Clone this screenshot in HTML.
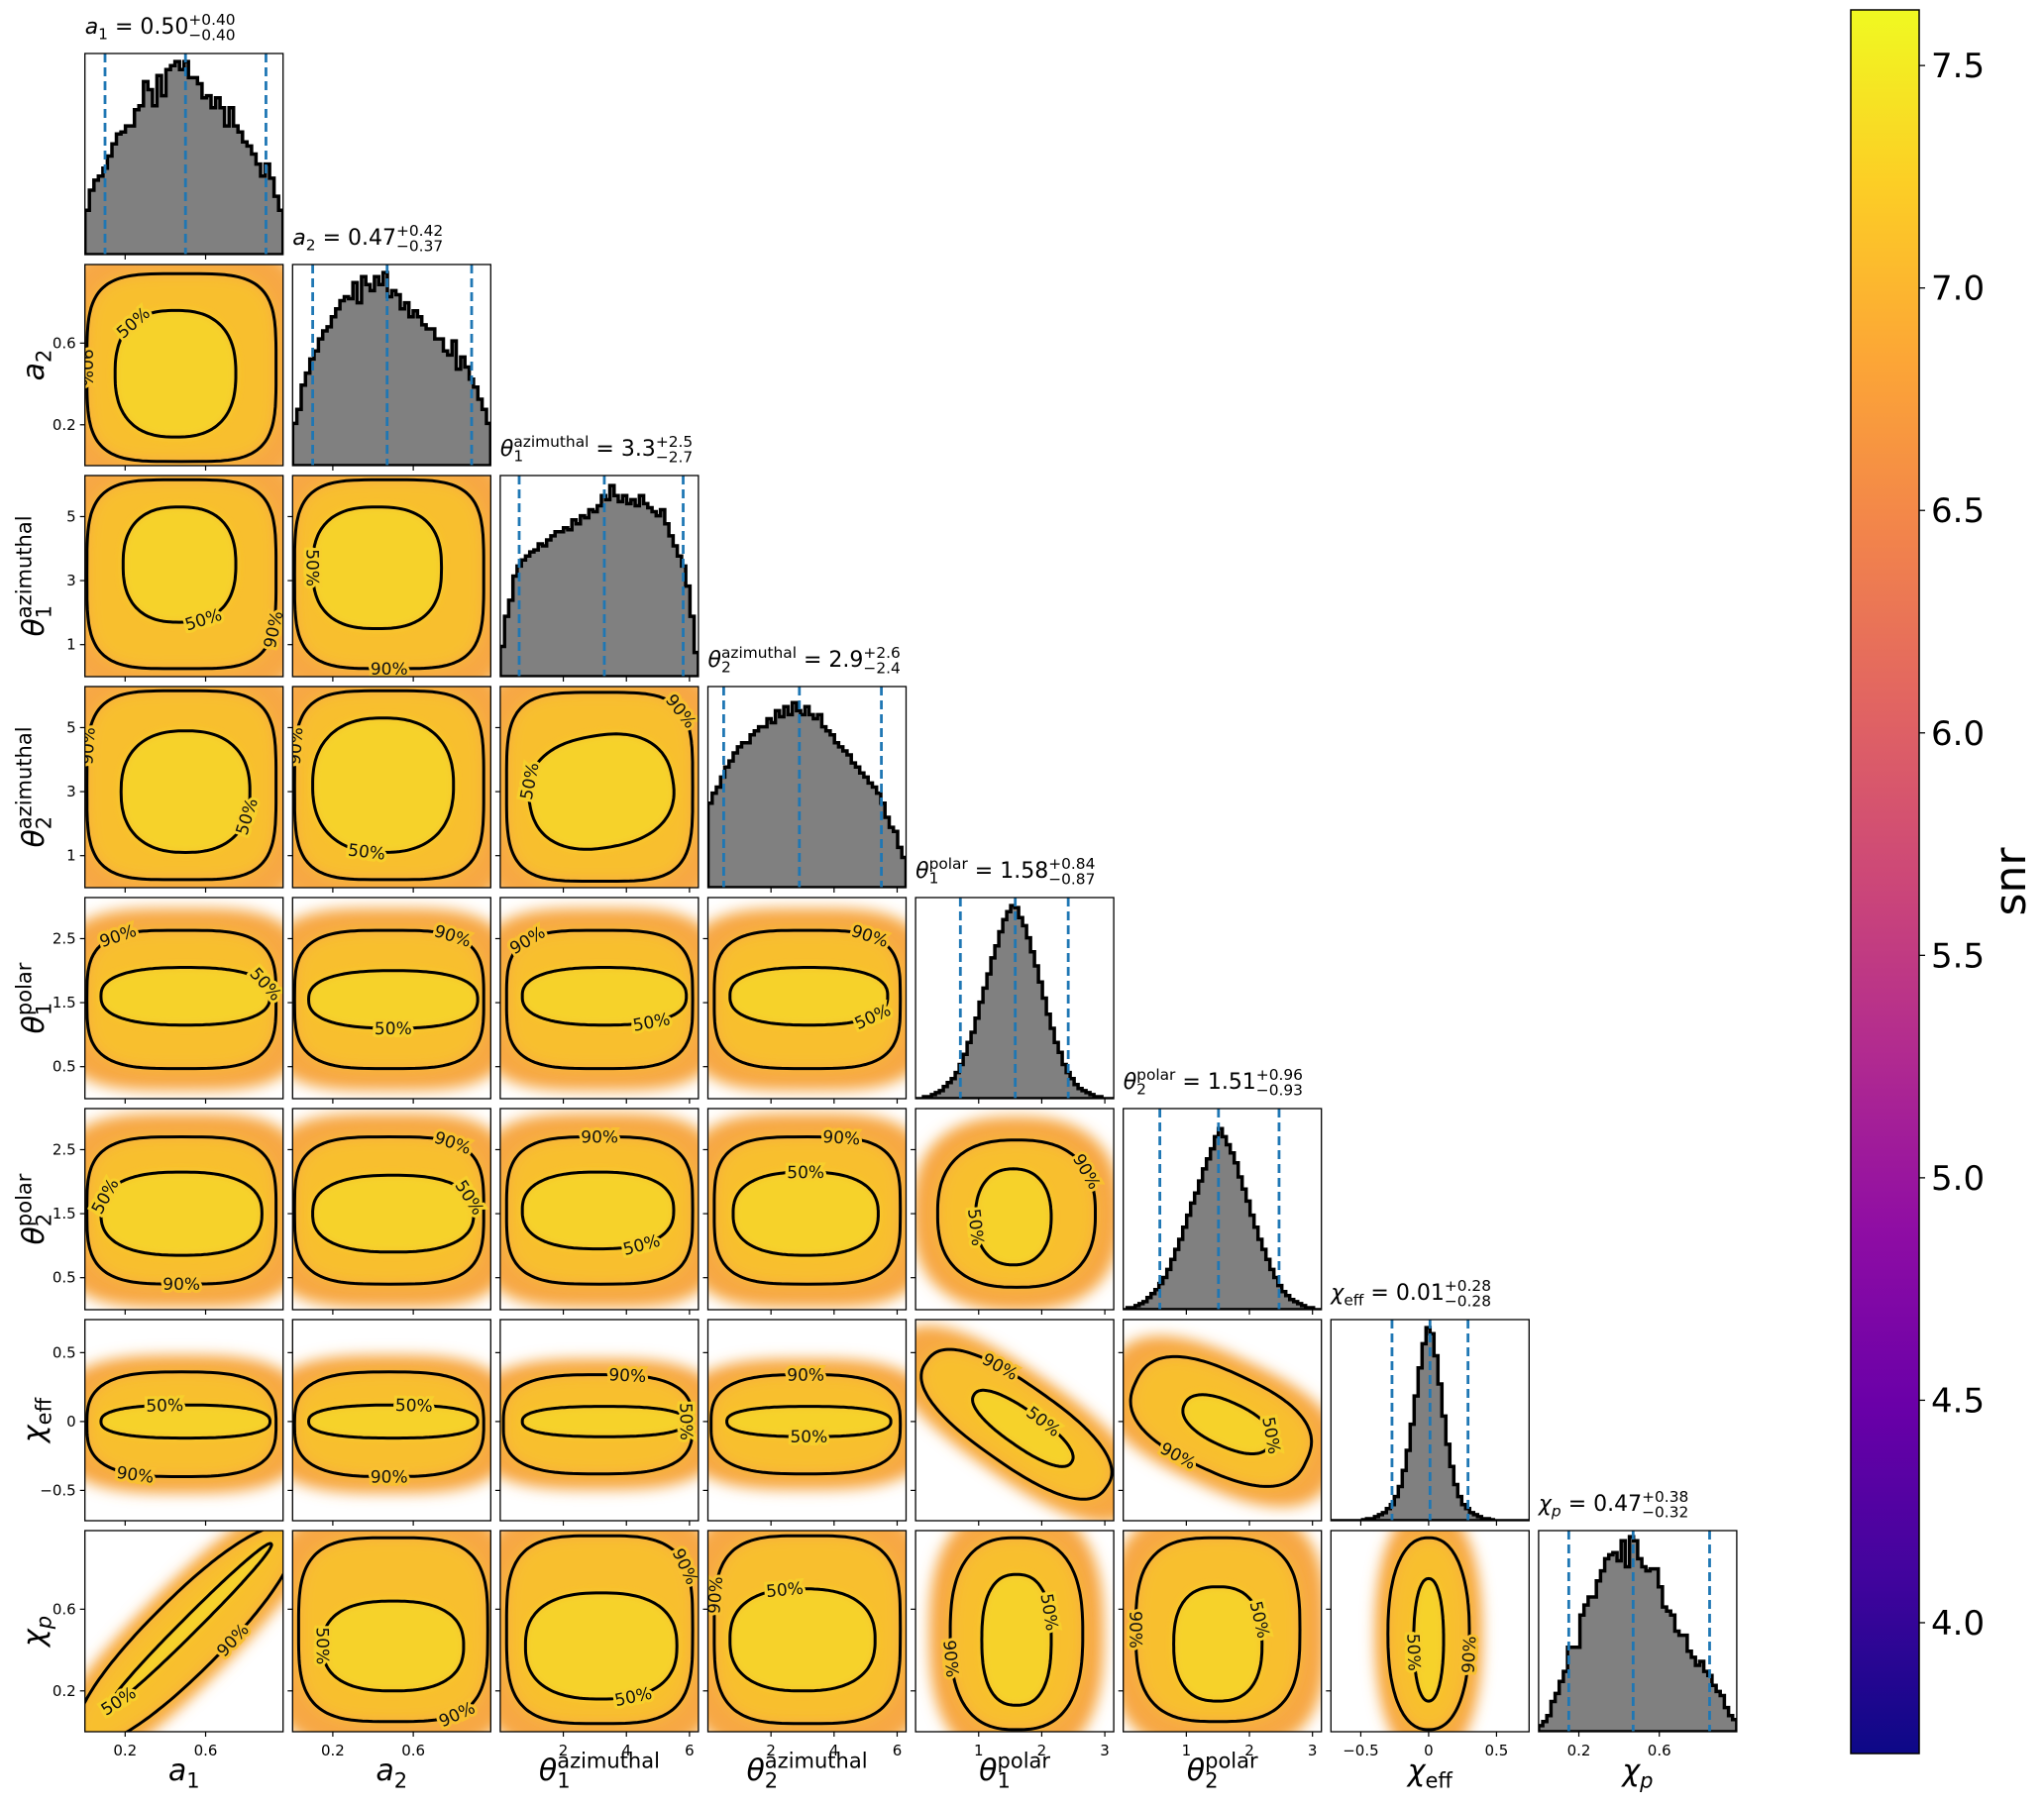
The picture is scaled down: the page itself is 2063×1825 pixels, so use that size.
<!DOCTYPE html>
<html><head><meta charset="utf-8"><title>Corner plot</title>
<style>
html,body{margin:0;padding:0;background:#fff;}
svg{display:block;font-family:"DejaVu Sans","Liberation Sans",sans-serif;}
</style></head>
<body>
<svg id="chart" width="2063" height="1825" viewBox="0 0 2063 1825" xmlns="http://www.w3.org/2000/svg">
<defs>
<filter id="blur8" x="-20%" y="-20%" width="140%" height="140%"><feGaussianBlur stdDeviation="7"/></filter>
<filter id="blur4" x="-20%" y="-20%" width="140%" height="140%"><feGaussianBlur stdDeviation="4"/></filter>
<linearGradient id="plasma" x1="0" y1="1" x2="0" y2="0">
<stop offset="0" stop-color="#0d0887"/><stop offset="0.1" stop-color="#41049d"/><stop offset="0.2" stop-color="#6a00a8"/><stop offset="0.3" stop-color="#8f0da4"/><stop offset="0.4" stop-color="#b12a90"/><stop offset="0.5" stop-color="#cc4778"/><stop offset="0.6" stop-color="#e16462"/><stop offset="0.7" stop-color="#f2844b"/><stop offset="0.8" stop-color="#fca636"/><stop offset="0.9" stop-color="#fcce25"/><stop offset="1" stop-color="#f0f921"/>
</linearGradient>
</defs>
</svg>
<script>
// ---- data ----
const paramNames = ['a1','a2','theta1-azimuthal','theta2-azimuthal','theta1-polar','theta2-polar','chi-eff','chi-p'];
const rangeLo = [0, 0, 0, 0, 0, 0, -0.72, 0];
const rangeHi = [0.985, 0.985, 6.283, 6.283, 3.1416, 3.1416, 0.74, 0.985];
const xTicks = [[0.2,0.6],[0.2,0.6],[2,4,6],[2,4,6],[1,2,3],[1,2,3],[-0.5,0,0.5],[0.2,0.6]];
const yTicks = [[],[0.2,0.6],[1,3,5],[1,3,5],[0.5,1.5,2.5],[0.5,1.5,2.5],[-0.5,0,0.5],[0.2,0.6]];
const medians = [0.50, 0.47, 3.3, 2.9, 1.58, 1.51, 0.01, 0.47];
const errPlus = ['+0.40','+0.42','+2.5','+2.6','+0.84','+0.96','+0.28','+0.38'];
const errMinus = ['−0.40','−0.37','−2.7','−2.4','−0.87','−0.93','−0.28','−0.32'];
const medianText = ['0.50','0.47','3.3','2.9','1.58','1.51','0.01','0.47'];
const qLow = [0.10, 0.10, 0.6, 0.5, 0.71, 0.58, -0.27, 0.15];
const qHigh = [0.90, 0.89, 5.8, 5.5, 2.42, 2.47, 0.29, 0.85];

const hist_a1 = [0.22,0.32,0.37,0.39,0.43,0.49,0.55,0.6,0.61,0.64,0.64,0.72,0.74,0.86,0.82,0.74,0.89,0.79,0.92,0.94,0.96,0.92,0.96,0.88,0.88,0.85,0.78,0.79,0.73,0.78,0.73,0.64,0.73,0.64,0.61,0.56,0.54,0.5,0.45,0.39,0.45,0.38,0.29,0.22];
const hist_a2 = [0.21,0.28,0.4,0.46,0.53,0.57,0.63,0.67,0.69,0.74,0.78,0.82,0.84,0.83,0.91,0.81,0.94,0.9,0.87,0.94,0.9,0.96,0.84,0.87,0.85,0.78,0.81,0.74,0.77,0.74,0.7,0.68,0.68,0.63,0.63,0.57,0.55,0.62,0.48,0.54,0.49,0.43,0.39,0.33,0.28,0.21];
const hist_th1az = [0.15,0.3,0.38,0.5,0.55,0.58,0.6,0.62,0.63,0.66,0.65,0.68,0.7,0.72,0.72,0.74,0.73,0.78,0.76,0.8,0.79,0.83,0.82,0.85,0.9,0.88,0.95,0.9,0.87,0.9,0.86,0.88,0.85,0.9,0.86,0.84,0.82,0.8,0.83,0.76,0.7,0.65,0.6,0.55,0.45,0.3,0.12];
const hist_th2az = [0.42,0.47,0.5,0.55,0.6,0.63,0.67,0.7,0.72,0.72,0.76,0.78,0.8,0.8,0.84,0.82,0.88,0.85,0.9,0.86,0.92,0.88,0.86,0.9,0.86,0.84,0.86,0.8,0.78,0.76,0.72,0.7,0.68,0.66,0.62,0.6,0.57,0.55,0.52,0.5,0.47,0.42,0.35,0.3,0.28,0.2,0.15];
const hist_th1p = [0.0,0.0,0.01,0.01,0.02,0.03,0.04,0.06,0.08,0.1,0.13,0.17,0.22,0.28,0.33,0.4,0.48,0.55,0.62,0.7,0.76,0.83,0.89,0.93,0.96,0.95,0.9,0.86,0.8,0.73,0.66,0.58,0.5,0.42,0.35,0.28,0.23,0.17,0.13,0.1,0.07,0.05,0.04,0.03,0.02,0.01,0.01,0.0,0.0,0.0];
const hist_th2p = [0.0,0.01,0.01,0.02,0.03,0.04,0.06,0.08,0.1,0.13,0.16,0.2,0.25,0.3,0.35,0.41,0.47,0.53,0.58,0.64,0.7,0.75,0.8,0.86,0.9,0.86,0.82,0.78,0.73,0.66,0.6,0.54,0.47,0.41,0.35,0.3,0.25,0.2,0.16,0.12,0.09,0.07,0.05,0.04,0.03,0.02,0.01,0.01,0.0,0.0];
const hist_chieff = [0,0,0,0,0,0,0,0,0.005,0.01,0.01,0.02,0.03,0.04,0.06,0.08,0.12,0.17,0.25,0.35,0.48,0.62,0.76,0.88,0.96,0.93,0.82,0.68,0.52,0.38,0.27,0.18,0.12,0.08,0.06,0.04,0.03,0.02,0.01,0.01,0.005,0,0,0,0,0,0,0,0,0];
const hist_chip = [0.03,0.05,0.08,0.15,0.19,0.25,0.3,0.42,0.42,0.42,0.58,0.63,0.67,0.67,0.75,0.8,0.86,0.88,0.89,0.85,0.95,0.82,0.97,0.95,0.86,0.82,0.8,0.81,0.81,0.72,0.62,0.6,0.58,0.5,0.48,0.48,0.4,0.37,0.33,0.35,0.3,0.28,0.23,0.2,0.18,0.12,0.08,0.06];
const histograms = [hist_a1,hist_a2,hist_th1az,hist_th2az,hist_th1p,hist_th2p,hist_chieff,hist_chip];

// contour rows: [row, col, level, cx, cy, rx, ry, rotationDeg, superellipseExp, labelAngle]
const contours = [
 [1,0,'90%',0.48,0.48,0.47,0.46,0,4,180],[1,0,'50%',0.45,0.45,0.30,0.31,0,2.5,130],
 [2,0,'90%',0.48,3.2,0.47,2.95,0,4,-20],[2,0,'50%',0.47,3.5,0.28,1.8,0,2.5,-70],
 [2,1,'90%',0.48,3.2,0.47,2.95,0,4,-90],[2,1,'50%',0.42,3.4,0.32,1.9,0,2.6,180],
 [3,0,'90%',0.48,3.2,0.47,2.95,0,4,170],[3,0,'50%',0.5,3.0,0.32,1.9,0,2.4,-20],
 [3,1,'90%',0.48,3.2,0.47,2.95,0,4,170],[3,1,'50%',0.45,3.2,0.35,2.1,0,2.4,-100],
 [3,2,'90%',3.15,3.15,2.95,2.95,0,4,40],[3,2,'50%',3.2,3.0,2.3,1.75,-10,2.4,160],
 [4,0,'90%',0.48,1.55,0.47,1.08,0,3.5,120],[4,0,'50%',0.5,1.6,0.42,0.45,0,2.5,20],
 [4,1,'90%',0.48,1.55,0.47,1.08,0,3.5,60],[4,1,'50%',0.5,1.55,0.42,0.45,0,2.5,-90],
 [4,2,'90%',3.15,1.55,2.95,1.08,0,3.5,130],[4,2,'50%',3.3,1.6,2.6,0.45,0,2.5,-60],
 [4,3,'90%',3.15,1.55,2.95,1.08,0,3.5,60],[4,3,'50%',3.2,1.6,2.5,0.45,0,2.5,-40],
 [5,0,'90%',0.48,1.55,0.47,1.15,0,3.5,-90],[5,0,'50%',0.48,1.5,0.4,0.65,0,2.5,160],
 [5,1,'90%',0.48,1.55,0.47,1.15,0,3.5,60],[5,1,'50%',0.5,1.5,0.4,0.6,0,2.5,20],
 [5,2,'90%',3.15,1.55,2.95,1.15,0,3.5,90],[5,2,'50%',3.1,1.55,2.4,0.6,0,2.5,-60],
 [5,3,'90%',3.15,1.55,2.95,1.15,0,3.5,80],[5,3,'50%',3.1,1.5,2.3,0.65,0,2.5,90],
 [5,4,'90%',1.6,1.5,1.25,1.15,0,2.5,30],[5,4,'50%',1.55,1.45,0.6,0.75,0,2.3,190],
 [6,0,'90%',0.48,-0.02,0.47,0.38,0,3,-110],[6,0,'50%',0.5,0.0,0.42,0.12,0,2.5,100],
 [6,1,'90%',0.48,-0.02,0.47,0.38,0,3,-90],[6,1,'50%',0.5,0.0,0.42,0.12,0,2.5,80],
 [6,2,'90%',3.1,-0.02,3.0,0.36,0,3,80],[6,2,'50%',3.3,0.0,2.6,0.11,0,2.5,0],
 [6,3,'90%',3.1,-0.02,3.0,0.36,0,3,90],[6,3,'50%',3.2,0.0,2.6,0.11,0,2.5,-90],
 [6,4,'90%',1.6,-0.02,1.74,0.29,35,2.5,110],[6,4,'50%',1.7,-0.05,0.94,0.13,35,2.3,80],
 [6,5,'90%',1.55,0.0,1.49,0.36,25,2.6,-100],[6,5,'50%',1.65,-0.02,0.75,0.16,25,2.3,20],
 [7,0,'90%',0.5,0.47,0.74,0.18,-45,2.2,-80],[7,0,'50%',0.53,0.53,0.56,0.04,-45,2.2,200],
 [7,1,'90%',0.5,0.5,0.47,0.45,0,3.5,-60],[7,1,'50%',0.5,0.42,0.35,0.22,0,2.5,180],
 [7,2,'90%',3.15,0.5,2.95,0.46,0,3.5,30],[7,2,'50%',3.2,0.42,2.4,0.26,0,2.5,-70],
 [7,3,'90%',3.15,0.5,2.95,0.46,0,3.5,170],[7,3,'50%',3.0,0.45,2.3,0.25,0,2.5,100],
 [7,4,'90%',1.6,0.48,1.05,0.47,0,2.6,190],[7,4,'50%',1.6,0.45,0.55,0.32,0,2.5,20],
 [7,5,'90%',1.5,0.5,1.3,0.45,0,3,180],[7,5,'50%',1.5,0.43,0.7,0.28,0,2.5,20],
 [7,6,'90%',0.0,0.48,0.3,0.47,0,2.3,-10],[7,6,'50%',0.0,0.45,0.11,0.3,0,2.2,190]
];

const cbarLo = 3.706, cbarHi = 7.625;
const cbarTicks = [4.0,4.5,5.0,5.5,6.0,6.5,7.0,7.5];

// ---- layout ----
const NS = 'http://www.w3.org/2000/svg';
const svg = document.getElementById('chart');
const X0 = 85.7, PX = 209.6, Y0 = 54, PY = 213, W = 200, H = 203;
const N = 8;
function colLeft(j){ return X0 + j*PX; }
function rowTop(i){ return Y0 + i*PY; }
function xScale(p, v, j){ return colLeft(j) + (v - rangeLo[p])/(rangeHi[p]-rangeLo[p])*W; }
function yScale(p, v, i){ return rowTop(i) + H - (v - rangeLo[p])/(rangeHi[p]-rangeLo[p])*H; }
function el(tag, attrs, parent){
  const e = document.createElementNS(NS, tag);
  for (const k in attrs) e.setAttribute(k, attrs[k]);
  (parent||svg).appendChild(e);
  return e;
}
const labelSym = [['a','1',''],['a','2',''],['θ','1','azimuthal'],['θ','2','azimuthal'],['θ','1','polar'],['θ','2','polar'],['χ','eff',''],['χ','p','']];

function drawMath(parent, x, y, parts, size, anchorMiddle){
  const g = el('g', {}, parent);
  let cx = 0;
  for (const pt of parts){
    if (pt.stack){
      const s = size*0.7;
      const a = el('text', {x: cx, y: -size*0.42, 'font-size': s}, g); a.textContent = pt.sup;
      const b = el('text', {x: cx, y: size*(pt.subOff||0.22), 'font-size': s, 'font-style': pt.subItalic?'italic':'normal'}, g); b.textContent = pt.sub;
      cx += Math.max(pt.sup ? a.getComputedTextLength() : 0, pt.sub ? b.getComputedTextLength() : 0);
    } else {
      const t = el('text', {x: cx, y: 0, 'font-size': size, 'font-style': pt.italic?'italic':'normal', 'xml:space': 'preserve'}, g);
      t.setAttribute('style', 'white-space:pre');
      t.textContent = pt.t;
      cx += t.getComputedTextLength();
    }
  }
  const off = anchorMiddle ? -cx/2 : 0;
  g.setAttribute('transform', 'translate(' + (x+off) + ',' + y + ')');
  return g;
}
function symParts(p){
  const s = labelSym[p];
  const subIt = (s[1]==='p');
  return [{t:s[0], italic:true}, {stack:true, sup:s[2], sub:s[1], subItalic:subIt, subOff:0.25}];
}

function contourPoint(c, t, p, q, i, j){
  const n = c[8];
  const ct = Math.cos(t), st = Math.sin(t);
  const u = Math.sign(ct)*Math.pow(Math.abs(ct), 2/n);
  const v = Math.sign(st)*Math.pow(Math.abs(st), 2/n);
  const rxp = c[5]/(rangeHi[p]-rangeLo[p])*W;
  const ryp = c[6]/(rangeHi[q]-rangeLo[q])*H;
  const a = c[7]*Math.PI/180;
  const lx = u*rxp, ly = -v*ryp;
  const px = xScale(p, c[3], j) + lx*Math.cos(a) - ly*Math.sin(a);
  const py = yScale(q, c[4], i) + lx*Math.sin(a) + ly*Math.cos(a);
  return [px, py];
}
function contourPath(c, p, q, i, j, scale){
  let d = '';
  const cxp = xScale(p, c[3], j), cyp = yScale(q, c[4], i);
  for (let k = 0; k <= 180; k++){
    const t = k/180*2*Math.PI;
    let [x, y] = contourPoint(c, t, p, q, i, j);
    x = cxp + (x-cxp)*scale; y = cyp + (y-cyp)*scale;
    d += (k ? 'L' : 'M') + x.toFixed(1) + ',' + y.toFixed(1);
  }
  return d + 'Z';
}

for (let i = 0; i < N; i++){
  for (let j = 0; j <= i; j++){
    const L = colLeft(j), T = rowTop(i);
    const g = el('g', {});
    
    
    const clipId = 'clip' + i + '_' + j;
    const cp = el('clipPath', {id: clipId}, g);
    el('rect', {x: L, y: T, width: W, height: H}, cp);
    const inner = el('g', {'clip-path': 'url(#' + clipId + ')'}, g);
    if (i === j){
      const h = histograms[i];
      const nb = h.length;
      const bw = (rangeHi[i]-rangeLo[i])/nb;
      let d = 'M' + L + ',' + (T+H);
      for (let b = 0; b < nb; b++){
        const x1 = xScale(i, rangeLo[i] + b*bw, j), x2 = xScale(i, rangeLo[i] + (b+1)*bw, j);
        const y = T + H - h[b]*H;
        d += 'L' + x1.toFixed(1) + ',' + y.toFixed(1) + 'L' + x2.toFixed(1) + ',' + y.toFixed(1);
      }
      d += 'L' + (L+W) + ',' + (T+H) + 'Z';
      const hp = el('path', {d: d, fill: '#808080', stroke: '#000', 'stroke-width': 3.5, 'stroke-linejoin': 'miter'}, inner);
      
      
      [qLow[i], medians[i], qHigh[i]].forEach((v, k) => {
        const x = xScale(i, v, j);
        const ln = el('line', {x1: x, y1: T, x2: x, y2: T+H, stroke: '#1f77b4', 'stroke-width': 2.8, 'stroke-dasharray': '9,5'}, inner);
        
        
      });
      const parts = symParts(i).concat([{t:' = ' + medianText[i]}, {stack:true, sup:errPlus[i], sub:errMinus[i], subOff:0.3}]);
      const tg = drawMath(svg, L, T - 20, parts, 22, false);
      
      
    } else {
      const p = j, q = i;
      const cs = contours.filter(c => c[0]===i && c[1]===j);
      const c90 = cs.find(c => c[2]==='90%'), c50 = cs.find(c => c[2]==='50%');
      const cloud = el('path', {d: contourPath(c90, p, q, i, j, 1.32), fill: '#f7a844', filter: 'url(#blur8)'}, inner);
      
      
      const mid = el('path', {d: contourPath(c90, p, q, i, j, 1.0), fill: '#f8bf2e', filter: 'url(#blur8)'}, inner);
      
      
      const core = el('path', {d: contourPath(c50, p, q, i, j, 1.0), fill: '#f6d22c', filter: 'url(#blur4)'}, inner);
      
      
      cs.forEach(c => {
        const line = el('path', {d: contourPath(c, p, q, i, j, 1.0), fill: 'none', stroke: '#000', 'stroke-width': 3}, inner);
        
        
        const t = c[9]*Math.PI/180;
        const [lx, ly] = contourPoint(c, t, p, q, i, j);
        const [ax, ay] = contourPoint(c, t + 0.02, p, q, i, j);
        let ang = Math.atan2(ay-ly, ax-lx)*180/Math.PI;
        if (ang > 90) ang -= 180; if (ang < -90) ang += 180;
        const lab = el('text', {x: lx, y: ly + 6, 'font-size': 17, 'text-anchor': 'middle', fill: '#111', stroke: c[2]==='50%' ? '#f7cf2c' : '#f8c030', 'stroke-width': 6, 'paint-order': 'stroke', transform: 'rotate(' + ang.toFixed(1) + ',' + lx.toFixed(1) + ',' + ly.toFixed(1) + ')'}, inner);
        lab.textContent = c[2];
        
        
      });
      yTicks[i].forEach(v => {
        const y = yScale(i, v, i);
        el('line', {x1: L-5, y1: y, x2: L, y2: y, stroke: '#000', 'stroke-width': 1.2}, g);
        if (j === 0){
          const tl = el('text', {x: L-9, y: y+5, 'font-size': 15, 'text-anchor': 'end'}, g);
          tl.textContent = String(v).replace('-', '−');
          
          
        }
      });
    }
    el('rect', {x: L, y: T, width: W, height: H, fill: 'none', stroke: '#000', 'stroke-width': 1.3}, g);
    xTicks[j].forEach(v => {
      const x = xScale(j, v, j);
      el('line', {x1: x, y1: T+H, x2: x, y2: T+H+5, stroke: '#000', 'stroke-width': 1.2}, g);
      if (i === N-1){
        const tl = el('text', {x: x, y: T+H+24, 'font-size': 15, 'text-anchor': 'middle'}, g);
        tl.textContent = String(v).replace('-', '−');
        
        
      }
    });
  }
}
for (let k = 0; k < N; k++){
  const xl = drawMath(svg, colLeft(k) + W/2, 1797, symParts(k), 30, true);
  
  
  if (k > 0){
    const wrap = el('g', {transform: 'translate(44,' + (rowTop(k) + H/2) + ') rotate(-90)'});
    const yl = drawMath(wrap, 0, 0, symParts(k), 30, true);
    
    
  }
}
const CB = {x: 1868, y: 10, w: 69, h: 1760};
function cbY(v){ return CB.y + CB.h - (v - cbarLo)/(cbarHi - cbarLo)*CB.h; }
const cbar = el('rect', {x: CB.x, y: CB.y, width: CB.w, height: CB.h, fill: 'url(#plasma)', stroke: '#000', 'stroke-width': 1.5});


cbarTicks.forEach(v => {
  const y = cbY(v);
  el('line', {x1: CB.x+CB.w, y1: y, x2: CB.x+CB.w+6, y2: y, stroke: '#000', 'stroke-width': 1.3});
  const t = el('text', {x: CB.x+CB.w+12, y: y+12, 'font-size': 34}); t.textContent = v.toFixed(1);
  
  
});
const snr = el('text', {x: 0, y: 0, 'font-size': 44, 'text-anchor': 'middle', transform: 'translate(2044,890) rotate(-90)'});
snr.textContent = 'snr';


</script>
</body></html>
